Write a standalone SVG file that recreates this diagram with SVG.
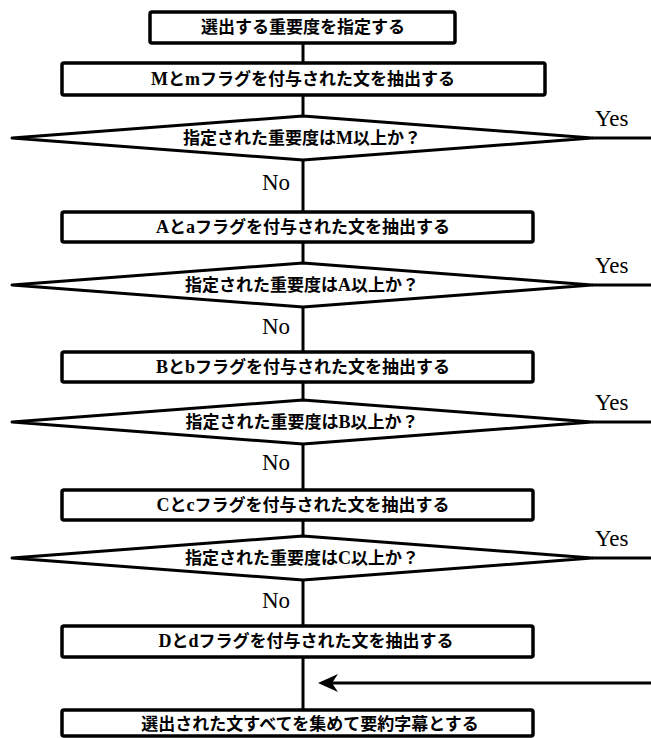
<svg xmlns="http://www.w3.org/2000/svg" width="651" height="738" viewBox="0 0 651 738">
<style>
.box{fill:#fff;stroke:#000;stroke-width:3.5}
.dia{fill:#fff;stroke:#000;stroke-width:3;stroke-linejoin:round}
.ln{stroke:#000;stroke-width:3;fill:none}
.t{font-family:"Noto Sans CJK JP","Noto Sans CJK SC",sans-serif;font-weight:bold;font-size:17px;text-anchor:middle;fill:#000}
.l{font-family:"Liberation Serif",serif;font-weight:bold;font-size:18px}
.yn{font-family:"Liberation Serif",serif;font-size:23px;fill:#000}
</style>
<defs>
<marker id="ah" viewBox="0 0 20 18" refX="8" refY="9" markerWidth="20" markerHeight="18" markerUnits="userSpaceOnUse" orient="auto">
<path d="M0,0 L20,9 L0,18 L6,9 Z" fill="#000"/>
</marker>
</defs>
<g id="connectors">
<line class="ln" x1="303" y1="43" x2="303" y2="63"/>
<line class="ln" x1="303" y1="95" x2="303" y2="116"/>
<line class="ln" x1="303" y1="160" x2="303" y2="212"/>
<line class="ln" x1="303" y1="242" x2="303" y2="263"/>
<line class="ln" x1="303" y1="307" x2="303" y2="352"/>
<line class="ln" x1="303" y1="382" x2="303" y2="400"/>
<line class="ln" x1="303" y1="444" x2="303" y2="490"/>
<line class="ln" x1="303" y1="520" x2="303" y2="536"/>
<line class="ln" x1="303" y1="580" x2="303" y2="626"/>
<line class="ln" x1="303" y1="657" x2="303" y2="710"/>
<line class="ln" x1="592" y1="138" x2="651" y2="138"/>
<line class="ln" x1="592" y1="285" x2="651" y2="285"/>
<line class="ln" x1="592" y1="422" x2="651" y2="422"/>
<line class="ln" x1="592" y1="558" x2="651" y2="558"/>
<line class="ln" x1="651" y1="683" x2="330" y2="683" marker-end="url(#ah)"/>
<text class="yn" x="595" y="126">Yes</text>
<text class="yn" x="595" y="273">Yes</text>
<text class="yn" x="595" y="410">Yes</text>
<text class="yn" x="595" y="546">Yes</text>
<text class="yn" x="262" y="190">No</text>
<text class="yn" x="262" y="334">No</text>
<text class="yn" x="262" y="470">No</text>
<text class="yn" x="262" y="608">No</text>
</g>
<g id="n_select">
<rect class="box" x="150" y="12" width="305" height="31" rx="2"/>
<text class="t" x="303" y="33">選出する重要度を指定する</text>
</g>
<g id="n_extractM">
<rect class="box" x="62" y="63" width="483" height="32" rx="2"/>
<text class="t" x="303" y="85"><tspan class="l">M</tspan>と<tspan class="l">m</tspan>フラグを付与された文を抽出する</text>
</g>
<g id="d_M">
<polygon class="dia" points="12,138 303,116 592,138 303,160"/>
<text class="t" x="302" y="144">指定された重要度は<tspan class="l">M</tspan>以上か？</text>
</g>
<g id="n_extractA">
<rect class="box" x="62" y="212" width="471" height="30" rx="2"/>
<text class="t" x="303" y="233"><tspan class="l">A</tspan>と<tspan class="l">a</tspan>フラグを付与された文を抽出する</text>
</g>
<g id="d_A">
<polygon class="dia" points="12,285 303,263 592,285 303,307"/>
<text class="t" x="302" y="291">指定された重要度は<tspan class="l">A</tspan>以上か？</text>
</g>
<g id="n_extractB">
<rect class="box" x="62" y="352" width="471" height="30" rx="2"/>
<text class="t" x="303" y="373"><tspan class="l">B</tspan>と<tspan class="l">b</tspan>フラグを付与された文を抽出する</text>
</g>
<g id="d_B">
<polygon class="dia" points="12,422 303,400 592,422 303,444"/>
<text class="t" x="302" y="428">指定された重要度は<tspan class="l">B</tspan>以上か？</text>
</g>
<g id="n_extractC">
<rect class="box" x="62" y="490" width="471" height="30" rx="2"/>
<text class="t" x="303" y="511"><tspan class="l">C</tspan>と<tspan class="l">c</tspan>フラグを付与された文を抽出する</text>
</g>
<g id="d_C">
<polygon class="dia" points="12,558 303,536 592,558 303,580"/>
<text class="t" x="302" y="564">指定された重要度は<tspan class="l">C</tspan>以上か？</text>
</g>
<g id="n_extractD">
<rect class="box" x="62" y="626" width="471" height="31" rx="2"/>
<text class="t" x="306" y="647"><tspan class="l">D</tspan>と<tspan class="l">d</tspan>フラグを付与された文を抽出する</text>
</g>
<g id="n_collect">
<rect class="box" x="62" y="710" width="471" height="26" rx="2"/>
<text class="t" x="310" y="730">選出された文すべてを集めて要約字幕とする</text>
</g>
</svg>
